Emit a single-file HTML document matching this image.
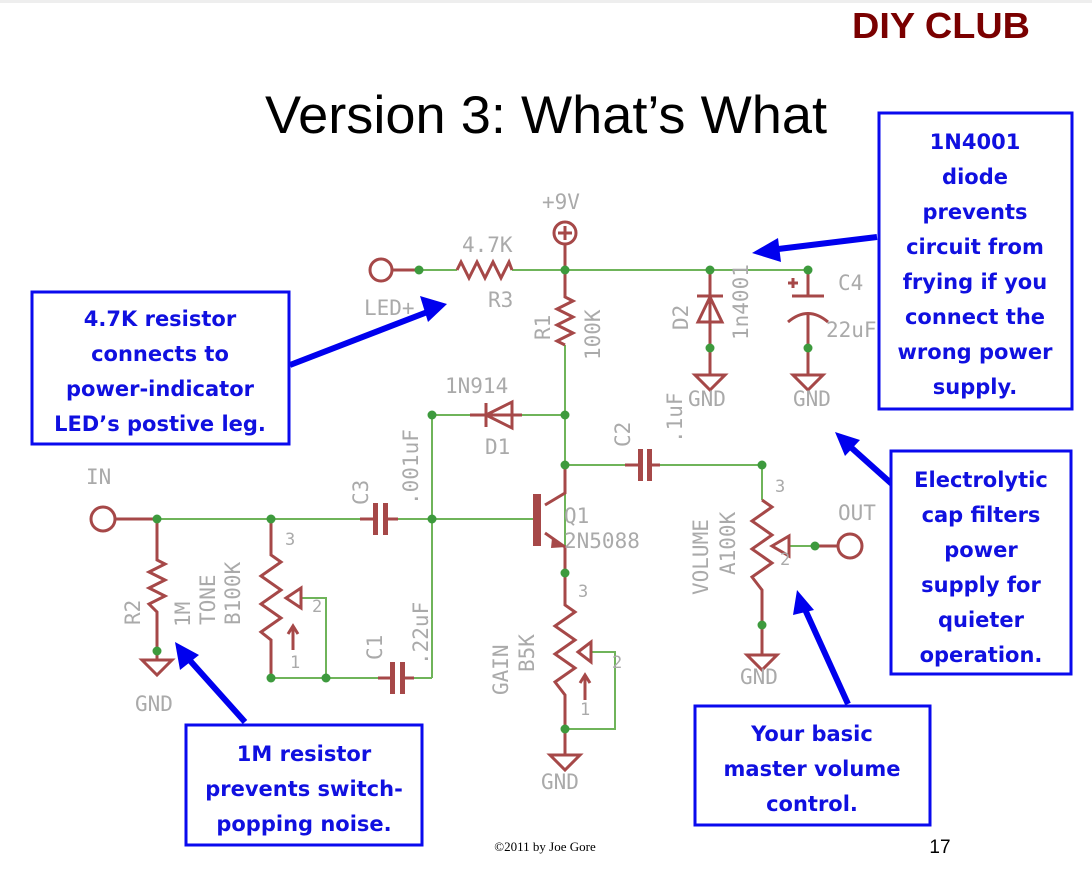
<!DOCTYPE html>
<html><head><meta charset="utf-8"><style>
body{margin:0;background:#fff;width:1092px;height:870px;overflow:hidden}
svg{display:block}
.w{stroke:#6fb45a;stroke-width:2;fill:none}
.c{stroke:#a64848;stroke-width:3;fill:none}
.cf{fill:#a64848}
.d{fill:#3d9a3d}
.l{fill:#aaa;font-family:"DejaVu Sans Mono","Liberation Mono",monospace;font-size:21px}
.b{fill:#fff;stroke:#0a0aee;stroke-width:3}
.t{fill:#1010e0;font-family:"DejaVu Sans","Liberation Sans",sans-serif;font-size:21px;font-weight:bold;text-anchor:middle}
.a{stroke:#0000ee;stroke-width:6;fill:none}
.ah{fill:#0000ee}
</style></head><body>
<svg width="1092" height="870" viewBox="0 0 1092 870">
<rect x="0" y="0" width="1092" height="3" fill="#eee"/>
<text x="941" y="38" text-anchor="middle" font-family="Liberation Sans,sans-serif" font-weight="bold" font-size="36" fill="#7a0000" textLength="178" lengthAdjust="spacingAndGlyphs">DIY CLUB</text>
<text x="546" y="133" text-anchor="middle" font-family="Liberation Sans,sans-serif" font-size="53" fill="#000" textLength="562" lengthAdjust="spacingAndGlyphs">Version 3: What’s What</text>

<g class="w">
<path d="M419 270H457M512 270H808"/>
<path d="M565 345V573"/>
<path d="M432 415H470M522 415H565M432 415V678"/>
<path d="M565 465H625M660 465H762V500"/>
<path d="M157 519H360M398 519H535"/>
<path d="M271 678H378M414 678H432"/>
<path d="M301 598H326V678"/>
<path d="M591 652H615V729H565"/>
<path d="M789 546H815"/>
</g>
<g class="c">
<circle cx="381" cy="270" r="11"/><path d="M392 270H419"/>
<circle cx="565" cy="233" r="11"/><path d="M565 226V240M558 233H572M565 244V270"/>
<path d="M457 270L461 262L469 278L477 262L485 278L493 262L501 278L509 262L512 270"/>
<path d="M565 270V297L573 301L557 309L573 317L557 325L573 333L557 341L565 345"/>
<path d="M470 415H522M486 403V427"/><path d="M486 415L512 402V428Z"/>
<path d="M625 465H638M652 465H660"/>
<path d="M545 505L565 493V465M545 533L565 547V573"/>
<circle cx="103" cy="519" r="12"/><path d="M115 519H157"/>
<path d="M157 519V560L165 564L149 572L165 580L149 588L165 596L149 604L157 612V651V660"/>
<path d="M142 660H172L157 675Z"/>
<path d="M271 519V555L281 562L261 576L281 590L261 604L281 618L261 632L271 640V678"/>
<path d="M286 598L301 588V608Z"/><path d="M293 650V628M288 634L293 626L298 634"/>
<path d="M360 519H373M387 519H398M378 678H390M404 678H414"/>
<path d="M565 573V605L575 612L555 626L575 640L555 654L575 668L555 682L565 695V755"/>
<path d="M578 652L591 642V662Z"/><path d="M585 700V677M580 683L585 675L590 683"/>
<path d="M550 755H580L565 770Z"/>
<path d="M762 500L772 507L752 521L772 535L752 549L772 563L752 577L762 590V655"/>
<path d="M772 546L789 536V556Z"/>
<path d="M747 655H777L762 670Z"/>
<path d="M815 546H838"/><circle cx="850" cy="546" r="12"/>
<path d="M710 270V375M697 296H723"/><path d="M710 297L698 322H722Z"/>
<path d="M695 375H725L710 390Z"/>
<path d="M808 270V296M808 312V375M792 296H824M788 322Q808 305 828 322M788 283H798M793 278V288"/>
<path d="M793 375H823L808 390Z"/>
</g>
<g class="cf">
<rect x="373" y="503" width="5" height="32"/><rect x="383" y="503" width="5" height="32"/>
<rect x="390" y="662" width="5" height="32"/><rect x="400" y="662" width="5" height="32"/>
<rect x="638" y="449" width="5" height="32"/><rect x="647" y="449" width="5" height="32"/>
<rect x="533" y="494" width="8" height="52"/>
<path d="M552 538L566 547L551 548Z"/>
</g>
<g class="d">
<circle cx="419" cy="270" r="4.5"/><circle cx="565" cy="270" r="4.5"/><circle cx="710" cy="270" r="4.5"/><circle cx="808" cy="270" r="4.5"/>
<circle cx="565" cy="415" r="4.5"/><circle cx="432" cy="415" r="4.5"/><circle cx="565" cy="465" r="4.5"/><circle cx="762" cy="465" r="4.5"/>
<circle cx="157" cy="519" r="4.5"/><circle cx="271" cy="519" r="4.5"/><circle cx="432" cy="519" r="4.5"/>
<circle cx="157" cy="651" r="4.5"/><circle cx="271" cy="678" r="4.5"/><circle cx="326" cy="678" r="4.5"/>
<circle cx="565" cy="573" r="4.5"/><circle cx="565" cy="729" r="4.5"/><circle cx="815" cy="546" r="4.5"/><circle cx="762" cy="625" r="4.5"/>
<circle cx="710" cy="348" r="4.5"/><circle cx="808" cy="348" r="4.5"/>
</g>
<g class="l">
<text x="542" y="209">+9V</text><text x="462" y="252">4.7K</text><text x="488" y="307">R3</text><text x="364" y="315">LED+</text>
<text x="445" y="393">1N914</text><text x="485" y="454">D1</text>
<text x="86" y="484">IN</text><text x="838" y="520">OUT</text>
<text x="564" y="523">Q1</text><text x="564" y="548">2N5088</text>
<text x="135" y="711">GND</text><text x="541" y="789">GND</text><text x="740" y="684">GND</text><text x="688" y="406">GND</text><text x="793" y="406">GND</text>
<text x="838" y="290">C4</text><text x="826" y="337">22uF</text>
<text transform="translate(550,340) rotate(-90)">R1</text>
<text transform="translate(600,360) rotate(-90)">100K</text>
<text transform="translate(688,330) rotate(-90)">D2</text>
<text transform="translate(748,340) rotate(-90)">1n4001</text>
<text transform="translate(630,447) rotate(-90)">C2</text>
<text transform="translate(682,443) rotate(-90)">.1uF</text>
<text transform="translate(368,505) rotate(-90)">C3</text>
<text transform="translate(418,505) rotate(-90)">.001uF</text>
<text transform="translate(382,660) rotate(-90)">C1</text>
<text transform="translate(428,665) rotate(-90)">.22uF</text>
<text transform="translate(140,625) rotate(-90)">R2</text>
<text transform="translate(190,627) rotate(-90)">1M</text>
<text transform="translate(215,625) rotate(-90)">TONE</text>
<text transform="translate(240,625) rotate(-90)">B100K</text>
<text transform="translate(508,695) rotate(-90)">GAIN</text>
<text transform="translate(534,672) rotate(-90)">B5K</text>
<text transform="translate(708,595) rotate(-90)">VOLUME</text>
<text transform="translate(735,575) rotate(-90)">A100K</text>
<g font-size="17"><text x="578" y="597">3</text><text x="612" y="668">2</text><text x="580" y="715">1</text>
<text x="285" y="545">3</text><text x="312" y="612">2</text><text x="290" y="668">1</text>
<text x="775" y="492">3</text><text x="780" y="565">2</text></g>
</g>

<g class="a">
<path d="M290 365L430 311"/><path d="M877 237L770 250"/><path d="M893 485L845 442"/><path d="M245 722L185 655"/><path d="M848 704L803 605"/>
</g>
<g class="ah">
<path d="M447 304L420 296L428 322Z"/><path d="M752 253L778 238L781 262Z"/><path d="M835 432L860 440L845 456Z"/><path d="M175 642L199 655L180 670Z"/><path d="M797 590L814 610L793 615Z"/>
</g>

<rect class="b" x="32" y="292" width="257" height="152"/>
<rect class="b" x="879" y="113" width="193" height="296"/>
<rect class="b" x="891" y="451" width="180" height="223"/>
<rect class="b" x="186" y="725" width="236" height="120"/>
<rect class="b" x="695" y="706" width="235" height="119"/>
<g class="t">
<text x="160" y="326">4.7K resistor</text><text x="160" y="361">connects to</text><text x="160" y="396">power-indicator</text><text x="160" y="431">LED’s postive leg.</text>
<text x="975" y="149">1N4001</text><text x="975" y="184">diode</text><text x="975" y="219">prevents</text><text x="975" y="254">circuit from</text><text x="975" y="289">frying if you</text><text x="975" y="324">connect the</text><text x="975" y="359">wrong power</text><text x="975" y="394">supply.</text>
<text x="981" y="487">Electrolytic</text><text x="981" y="522">cap filters</text><text x="981" y="557">power</text><text x="981" y="592">supply for</text><text x="981" y="627">quieter</text><text x="981" y="662">operation.</text>
<text x="304" y="761">1M resistor</text><text x="304" y="796">prevents switch-</text><text x="304" y="831">popping noise.</text>
<text x="812" y="741">Your basic</text><text x="812" y="776">master volume</text><text x="812" y="811">control.</text>
</g>
<text x="545" y="851" text-anchor="middle" font-family="Liberation Serif,serif" font-size="13" fill="#000">©2011 by Joe Gore</text>
<text x="940" y="853" text-anchor="middle" font-family="Liberation Sans,sans-serif" font-size="19" fill="#000">17</text>
</svg>
</body></html>
